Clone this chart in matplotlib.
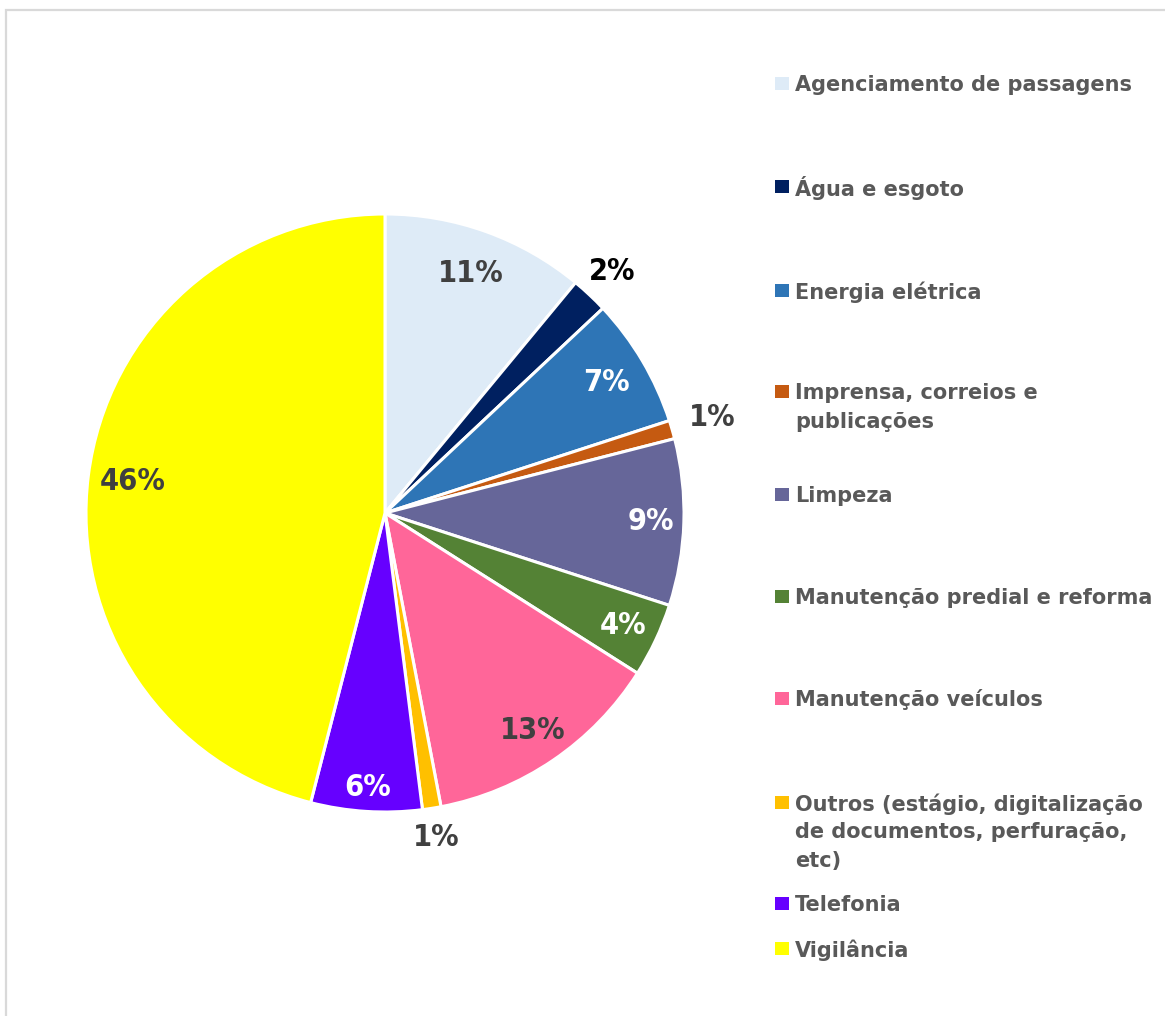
import matplotlib
matplotlib.use("Agg")
import matplotlib.pyplot as plt
from matplotlib.patches import Rectangle
import numpy as np

# ---- data ----
categories = [
    "Agenciamento de passagens",
    "Água e esgoto",
    "Energia elétrica",
    "Imprensa, correios e\npublicações",
    "Limpeza",
    "Manutenção predial e reforma",
    "Manutenção veículos",
    "Outros (estágio, digitalização\nde documentos, perfuração,\netc)",
    "Telefonia",
    "Vigilância",
]
values = [11, 2, 7, 1, 9, 4, 13, 1, 6, 46]
pct_labels = ["11%", "2%", "7%", "1%", "9%", "4%", "13%", "1%", "6%", "46%"]

# ---- style ----
colors = ["#DEEBF7", "#002060", "#2E75B6", "#C55A11", "#666699",
          "#548235", "#FF6699", "#FFC000", "#6600FF", "#FFFF00"]
label_colors = ["#404040", "#000000", "#FFFFFF", "#404040", "#FFFFFF",
                "#FFFFFF", "#404040", "#404040", "#FFFFFF", "#404040"]
label_radius = [0.85, 1.11, 0.86, 1.14, 0.89, 0.88, 0.88, 1.10, 0.92, 0.85]
legend_y_px = [83, 186, 290, 391, 494, 596, 698, 802, 903, 948]

W, H = 1165, 1016
fig = plt.figure(figsize=(W / 100, H / 100), dpi=100)
fig.patch.set_facecolor("white")

# outer chart border (light gray)
fig.patches.append(Rectangle((6 / W, -0.02), 1.2, (H - 10) / H + 0.02,
                             transform=fig.transFigure, fill=False,
                             edgecolor="#D9D9D9", linewidth=1.6))

cx, cy, r = 385, 513, 299
ax = fig.add_axes([(cx - r) / W, (H - cy - r) / H, 2 * r / W, 2 * r / H])

wedges, _ = ax.pie(values, colors=colors, startangle=90, counterclock=False,
                   radius=1.0,
                   wedgeprops=dict(edgecolor="white", linewidth=2.2))
ax.set_xlim(-1, 1)
ax.set_ylim(-1, 1)
ax.set_aspect("equal")
ax.axis("off")

for w, lab, col, rr in zip(wedges, pct_labels, label_colors, label_radius):
    mid = np.deg2rad((w.theta1 + w.theta2) / 2)
    ax.text(rr * np.cos(mid), rr * np.sin(mid), lab, ha="center", va="center",
            fontsize=22, fontweight="heavy", fontstretch="condensed",
            family="DejaVu Sans", color=col)

# legend drawn manually
for cat, col, ypx in zip(categories, colors, legend_y_px):
    fig.patches.append(Rectangle((775 / W, (H - ypx - 6.5) / H), 14 / W, 13 / H,
                                 transform=fig.transFigure, facecolor=col,
                                 edgecolor="none"))
    for i, line in enumerate(cat.split("\n")):
        fig.text(795 / W, (H - ypx - i * 28.5) / H, line, ha="left",
                 va="center_baseline", fontsize=15, fontweight="bold",
                 color="#595959", family="DejaVu Sans")

fig.savefig("out.png", dpi=100, facecolor="white")
